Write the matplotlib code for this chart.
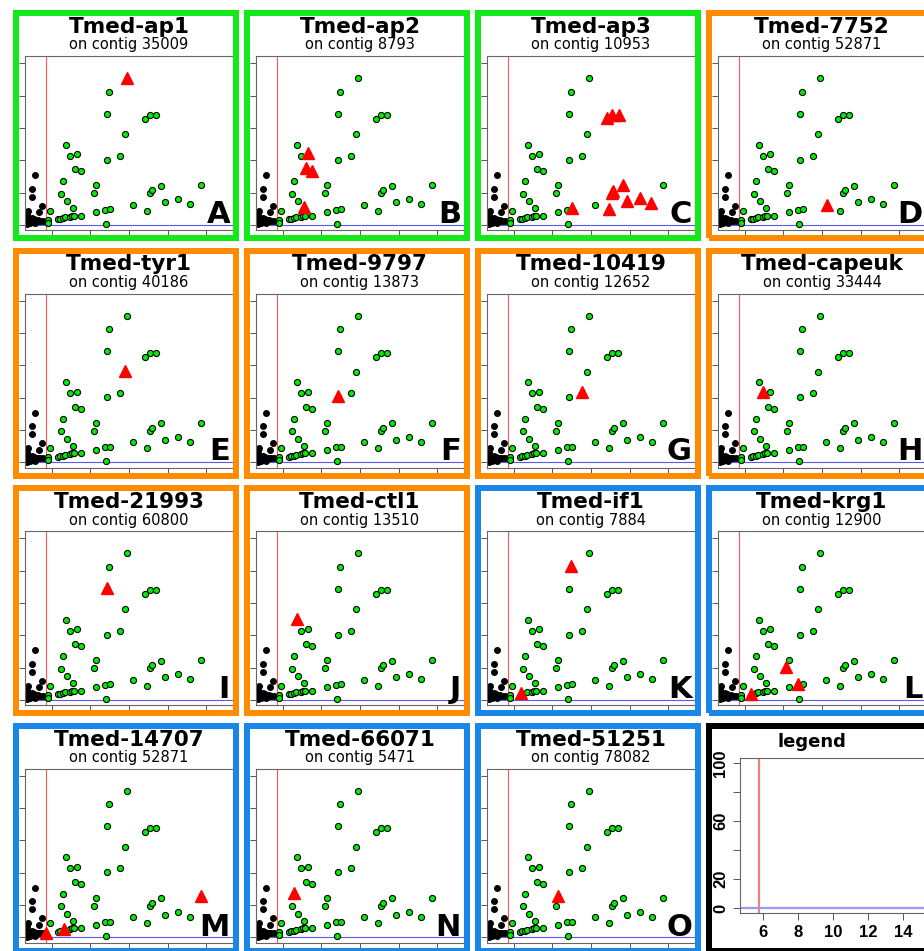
import matplotlib
matplotlib.use("Agg")
import matplotlib.pyplot as plt
from matplotlib.patches import Rectangle

# panel labels
names = ['Tmed-ap1', 'Tmed-ap2', 'Tmed-ap3', 'Tmed-7752',
         'Tmed-tyr1', 'Tmed-9797', 'Tmed-10419', 'Tmed-capeuk',
         'Tmed-21993', 'Tmed-ctl1', 'Tmed-if1', 'Tmed-krg1',
         'Tmed-14707', 'Tmed-66071', 'Tmed-51251']
contigs = ['35009', '8793', '10953', '52871',
           '40186', '13873', '12652', '33444',
           '60800', '13510', '7884', '12900',
           '52871', '5471', '78082']
letters = ['A', 'B', 'C', 'D', 'E', 'F', 'G', 'H',
           'I', 'J', 'K', 'L', 'M', 'N', 'O']
groups = ['green', 'green', 'green', 'orange',
          'orange', 'orange', 'orange', 'orange',
          'orange', 'orange', 'blue', 'blue',
          'blue', 'blue', 'blue']
group_colors = {'green': '#12e81a', 'orange': '#ff8c00', 'blue': '#1a86e8'}

# background points shared by every panel
green_x = [8.96, 9.88, 8.86, 10.82, 11.08, 11.42, 9.79, 6.74, 6.96, 7.31,
           8.86, 9.55, 7.22, 7.50, 6.59, 8.29, 8.17, 6.48, 6.79, 7.10,
           7.50, 5.93, 5.80, 5.79, 6.34, 6.45, 6.56, 6.69, 6.95, 7.07,
           7.15, 8.27, 8.75, 9.01, 8.79, 10.23, 10.91, 11.08, 11.18, 11.66,
           11.85, 12.54, 13.13, 13.71]
green_y = [82.5, 90.6, 68.9, 65.4, 67.8, 67.8, 56.1, 49.5, 42.9, 43.7,
           40.4, 42.9, 34.4, 33.2, 27.2, 24.7, 19.6, 19.4, 14.8, 10.3,
           5.8, 8.9, 3.1, 1.4, 3.7, 3.9, 4.1, 4.7, 5.2, 5.6,
           5.6, 8.0, 9.5, 9.7, 0.8, 12.4, 8.7, 19.6, 21.6, 24.3,
           14.0, 15.9, 12.8, 24.7]
black_x = [5.14, 4.97, 4.98, 5.50, 5.36, 4.80, 4.71, 4.71, 4.80, 4.97,
           5.05, 5.23, 5.40, 5.57, 4.88, 4.73, 5.10, 5.30, 4.66, 5.15]
black_y = [30.9, 22.5, 17.5, 11.8, 8.0, 8.9, 6.2, 3.1, 1.4, 4.1,
           2.7, 2.5, 2.5, 2.7, 1.0, 0.6, 3.5, 3.0, 1.8, 1.2]

# highlighted gene per panel (red triangles)
red_x = [[9.88],
         [7.31, 7.21, 7.52, 7.09],
         [10.83, 11.09, 11.47, 9.02, 10.91, 11.13, 11.08, 11.66, 11.86, 12.55, 13.12],
         [10.24],
         [9.79],
         [8.86],
         [9.53],
         [6.95],
         [8.84],
         [6.74],
         [8.98, 6.36],
         [6.33, 8.14, 8.76],
         [5.71, 6.66, 13.72],
         [6.57],
         [8.29]]
red_y = [[91.0],
         [44.7, 35.1, 33.6, 10.9],
         [66.3, 68.2, 68.2, 10.3, 9.7, 21.1, 19.5, 25.0, 14.8, 16.8, 13.3],
         [12.6],
         [56.3],
         [41.2],
         [43.3],
         [43.3],
         [69.1],
         [49.9],
         [83.0, 4.1],
         [3.7, 20.3, 9.9],
         [2.7, 5.2, 25.4],
         [27.8],
         [25.4]]

threshold_x = 5.7
xticks = [6, 8, 10, 12, 14]
yticks = [0, 20, 40, 60, 80, 100]
ytick_labels = ['0', '20', '', '60', '', '100']

W, H = 924, 951
fig = plt.figure(figsize=(W / 100, H / 100), dpi=100)


def rect(x, y, w, h):
    return [x / W, 1 - (y + h) / H, w / W, h / H]


def border(x, y, w, h, color, t=6):
    r = Rectangle(((x + t / 2) / W, 1 - (y + h - t / 2) / H), (w - t) / W, (h - t) / H,
                  transform=fig.transFigure, fill=False, lw=t * 0.72,
                  ec=color, zorder=10)
    fig.add_artist(r)


def style_axes(ax):
    for s in ax.spines.values():
        s.set_color('#666666')
        s.set_linewidth(0.8)
    ax.set_xticks(xticks)
    ax.set_yticks(yticks)
    ax.tick_params(direction='out', length=4, width=0.7, color='#555555')


for i in range(16):
    r, c = divmod(i, 4)
    x0 = 13 + 231 * c
    y0 = 10 + 237.5 * r
    if i == 15:
        # legend panel
        ax = fig.add_axes(rect(740, 758, 186, 155))
        ax.axvline(threshold_x + 0.05, color='#f08080', lw=1.6)
        ax.axhline(0, color='#9999ee', lw=1.6)
        ax.set_xlim(4.69, 15.3)
        ax.set_ylim(-3.4, 103.4)
        style_axes(ax)
        ax.tick_params(length=5)
        ax.set_yticklabels(ytick_labels, rotation=90, va='center')
        for lab in ax.get_xticklabels() + ax.get_yticklabels():
            lab.set_fontfamily('Liberation Sans')
            lab.set_fontweight('bold')
            lab.set_fontsize(12)
        fig.text(812 / W, 1 - 747 / H, 'legend', ha='center', va='baseline',
                 fontsize=13, fontweight='bold')
        border(x0, y0, 226, 231, 'black')
        continue

    ax = fig.add_axes(rect(x0 + 12, y0 + 46, 208, 174))
    ax.axvline(threshold_x, color='#ff5555', lw=0.8, zorder=1)
    ax.axhline(0, color='#5a5aee', lw=0.8, zorder=1)

    rx, ry = red_x[i], red_y[i]
    gx, gy = [], []
    for px, py in zip(green_x, green_y):
        hit = any(abs(px - a) < 0.2 and abs(py - b) < 2.5 for a, b in zip(rx, ry))
        if not hit:
            gx.append(px)
            gy.append(py)
    ax.plot(black_x, black_y, 'o', color='black', ms=4, zorder=2)
    ax.plot(gx, gy, 'o', mfc='#00ee00', mec='black', mew=0.8, ms=4.4, zorder=3)
    ax.plot(rx, ry, '^', color='#ff0000', ms=8.5, zorder=4)

    ax.set_xlim(4.62, 15.38)
    ax.set_ylim(-3.1, 104.5)
    style_axes(ax)
    ax.set_xticklabels([])
    ax.set_yticklabels([])

    cx = x0 + 116
    fig.text(cx / W, 1 - (y0 + 23) / H, names[i], ha='center', va='baseline',
             fontsize=15.5, fontweight='bold')
    fig.text(cx / W, 1 - (y0 + 39.5) / H, 'on contig ' + contigs[i],
             ha='center', va='baseline', fontsize=10.5)
    fig.text((x0 + 217) / W, 1 - (y0 + 213) / H, letters[i], ha='right',
             va='baseline', fontsize=22, fontweight='bold', zorder=11)
    border(x0, y0, 226, 231, group_colors[groups[i]])

fig.savefig('out.png', dpi=100)
